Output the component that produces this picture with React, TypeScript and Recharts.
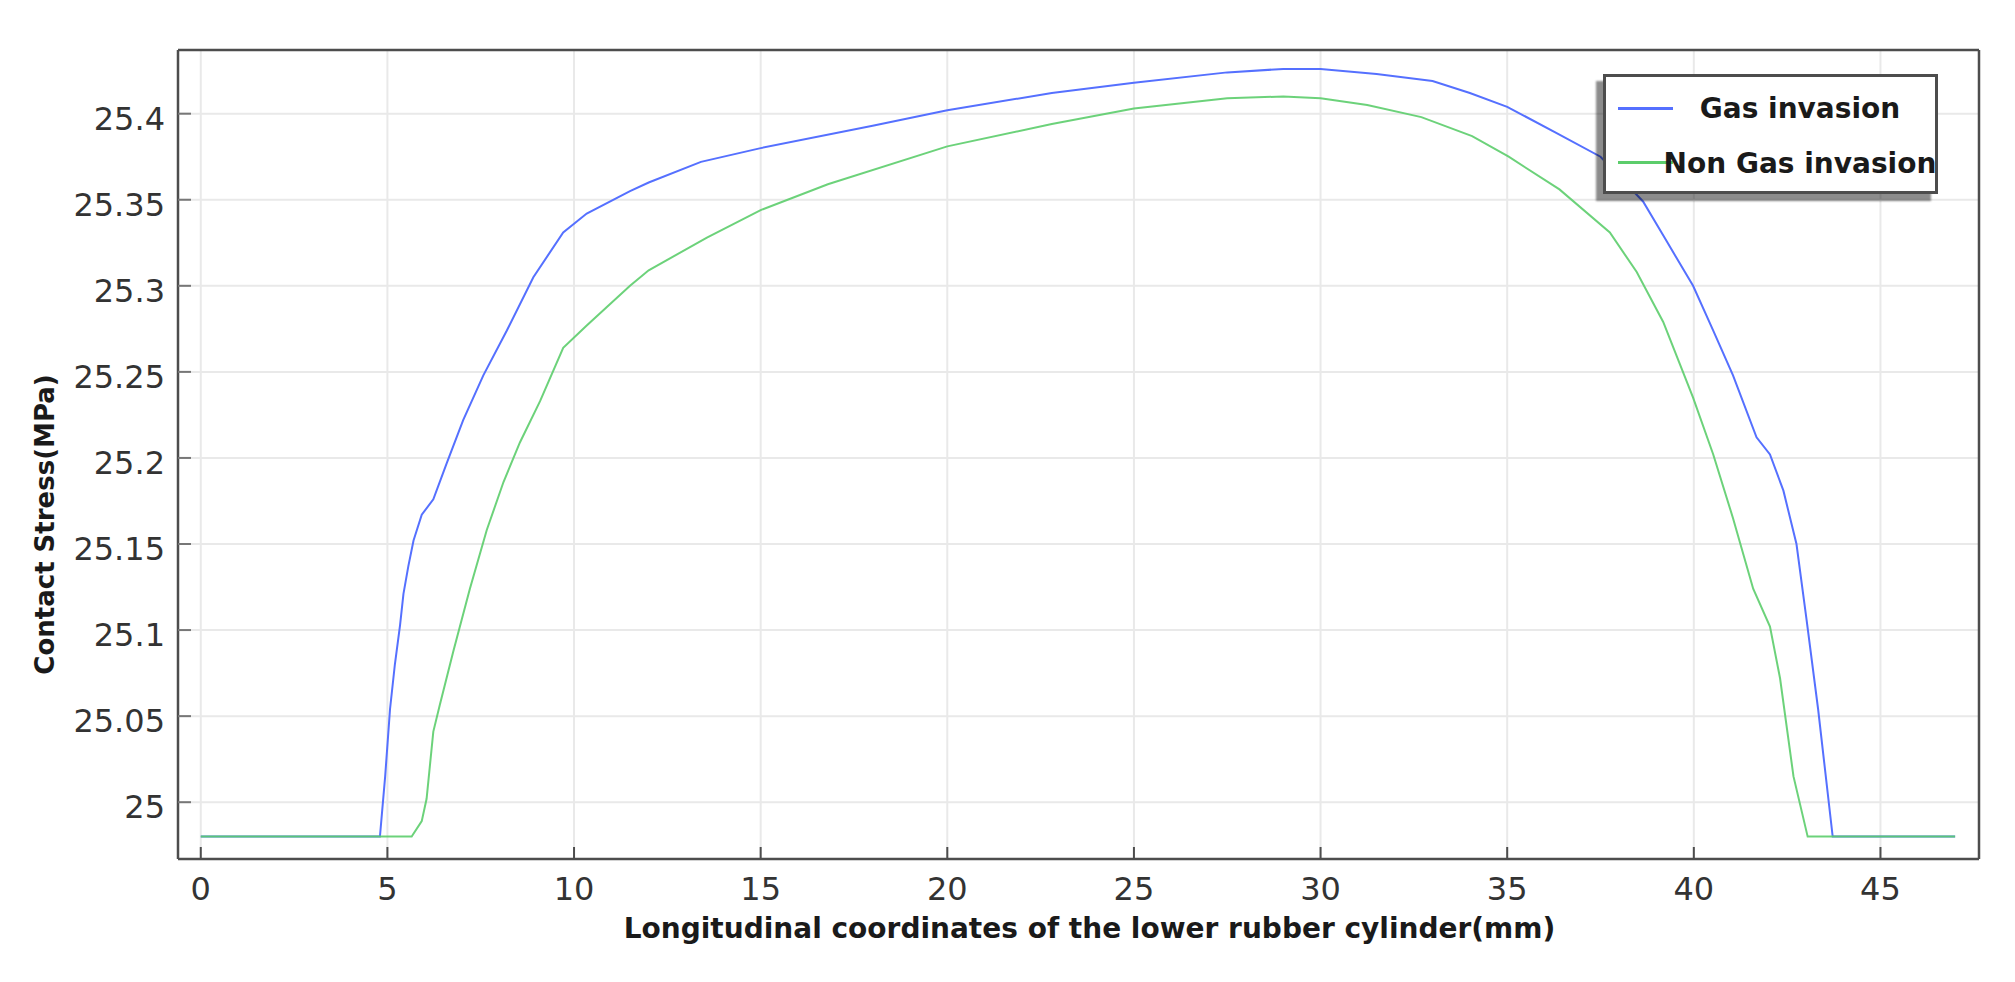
import { CartesianGrid, Label, Legend, Line, LineChart, XAxis, YAxis } from "recharts";

const xTicks = [0, 5, 10, 15, 20, 25, 30, 35, 40, 45];
const yTicks = [25, 25.05, 25.1, 25.15, 25.2, 25.25, 25.3, 25.35, 25.4];

const gasX = [
  0, 4.8, 4.94, 5.07, 5.2, 5.34, 5.43, 5.56, 5.7, 5.92, 6.23, 6.59, 7.03, 7.57, 8.2, 8.91, 9.71, 10.34,
  11.5, 12.0, 13.4, 15, 18, 20, 22.8, 25, 27.5, 29, 30, 31.5, 33.0, 34.0, 35.0, 36.3, 37.5, 38.64,
  39.27, 39.98, 40.52, 41.05, 41.68, 42.04, 42.4, 42.75, 43.02, 43.33, 43.72, 47,
];
const gasStress = [
  24.98, 24.98, 25.015, 25.054, 25.08, 25.103, 25.121, 25.137, 25.152, 25.167, 25.176, 25.197, 25.222,
  25.248, 25.274, 25.305, 25.331, 25.342, 25.355, 25.36, 25.372, 25.38, 25.393, 25.402, 25.412, 25.418,
  25.424, 25.426, 25.426, 25.423, 25.419, 25.412, 25.404, 25.389, 25.375, 25.349, 25.326, 25.3, 25.274,
  25.248, 25.212, 25.202, 25.181, 25.15, 25.106, 25.054, 24.98, 24.98,
];

const nonGasX = [
  0, 5.65, 5.92, 6.05, 6.23, 6.41, 6.77, 7.21, 7.66, 8.11, 8.55, 9.09, 9.71, 10.34, 11.5, 12.0, 13.56,
  15, 16.8, 20, 22.8, 25, 27.5, 29, 30, 31.25, 32.7, 34.06, 35.04, 36.4, 37.75, 38.47, 39.18, 39.98,
  40.52, 41.05, 41.59, 42.04, 42.31, 42.67, 43.05, 47,
];
const nonGasStress = [
  24.98, 24.98, 24.989, 25.002, 25.041, 25.057, 25.088, 25.124, 25.158, 25.186, 25.209, 25.233, 25.264,
  25.277, 25.3, 25.309, 25.328, 25.344, 25.359, 25.381, 25.394, 25.403, 25.409, 25.41, 25.409, 25.405,
  25.398, 25.387, 25.375, 25.356, 25.331, 25.308, 25.279, 25.235, 25.202, 25.165, 25.124, 25.102,
  25.072, 25.015, 24.98, 24.98,
];

const gasData = gasX.map((x, i) => ({ x, stress: gasStress[i] }));
const nonGasData = nonGasX.map((x, i) => ({ x, stress: nonGasStress[i] }));

const FONT = "'DejaVu Sans', sans-serif";
const FRAME = "#4d4d4d";

// ticks point into the plot, labels stay outside
const BottomTick = ({ x, y, payload }: any) => (
  <g>
    <line x1={x} y1={y} x2={x} y2={y - 12} stroke={FRAME} strokeWidth={2} />
    <text x={x} y={y + 41} textAnchor="middle" fontFamily={FONT} fontSize={32} fill="#333">
      {payload.value}
    </text>
  </g>
);

const LeftTick = ({ x, y, payload }: any) => (
  <g>
    <line x1={x} y1={y} x2={x + 13} y2={y} stroke="#777" strokeWidth={2} />
    <text x={x - 13} y={y + 16} textAnchor="end" fontFamily={FONT} fontSize={32} fill="#333">
      {payload.value}
    </text>
  </g>
);

const TopTick = ({ x, y }: any) => <line x1={x} y1={y} x2={x} y2={y + 10} stroke={FRAME} strokeWidth={2} />;

const RightTick = ({ x, y }: any) => <line x1={x} y1={y} x2={x - 13} y2={y} stroke={FRAME} strokeWidth={2} />;

const XTitle = ({ viewBox }: any) => (
  <text
    x={viewBox.x + viewBox.width / 2 + 11}
    y={viewBox.y + 79}
    textAnchor="middle"
    fontFamily={FONT}
    fontWeight="bold"
    fontSize={28}
    fill="#1a1a1a"
  >
    Longitudinal coordinates of the lower rubber cylinder(mm)
  </text>
);

const YTitle = ({ viewBox }: any) => {
  const cx = viewBox.x + 54;
  const cy = viewBox.y + viewBox.height / 2 + 70;
  return (
    <text
      x={cx}
      y={cy}
      transform={`rotate(-90 ${cx} ${cy})`}
      textAnchor="middle"
      fontFamily={FONT}
      fontWeight="bold"
      fontSize={26}
      fill="#1a1a1a"
    >
      Contact Stress(MPa)
    </text>
  );
};

const LegendBox = ({ payload }: any) => (
  <div
    style={{
      position: "relative",
      width: 335,
      height: 120,
      boxSizing: "border-box",
      border: `3px solid ${FRAME}`,
      background: "#fff",
      boxShadow: "-7px 7px 2px rgba(0,0,0,0.45)",
      fontFamily: FONT,
      fontWeight: "bold",
      fontSize: 28,
      color: "#1a1a1a",
    }}
  >
    {(payload || []).map((item: any, i: number) => (
      <div key={item.value} style={{ position: "absolute", left: 0, top: 0, width: "100%" }}>
        <div
          style={{
            position: "absolute",
            left: 12,
            top: 30 + i * 54,
            width: 55,
            height: 3,
            background: item.color,
          }}
        />
        <div
          style={{
            position: "absolute",
            left: 194,
            top: 12 + i * 55,
            transform: "translateX(-50%)",
            whiteSpace: "nowrap",
            lineHeight: "40px",
          }}
        >
          {item.value}
        </div>
      </div>
    ))}
  </div>
);

export default function App() {
  return (
    <div style={{ position: "absolute", left: 0, top: 0, width: 2015, height: 982, background: "#fff" }}>
      <LineChart width={2015} height={982} margin={{ top: 49, right: 35, bottom: 0, left: 0 }}>
        <CartesianGrid stroke="#e9e9e9" strokeWidth={2} />
        <XAxis
          dataKey="x"
          type="number"
          domain={[-0.61, 47.64]}
          ticks={xTicks}
          height={123}
          tickSize={0}
          tickMargin={0}
          tickLine={false}
          tick={<BottomTick />}
          axisLine={{ stroke: FRAME, strokeWidth: 2.5 }}
        >
          <Label content={<XTitle />} />
        </XAxis>
        <XAxis
          xAxisId="top"
          orientation="top"
          dataKey="x"
          type="number"
          domain={[-0.61, 47.64]}
          ticks={xTicks}
          height={1}
          tickSize={0}
          tickMargin={0}
          tickLine={false}
          tick={<TopTick />}
          axisLine={{ stroke: FRAME, strokeWidth: 2.5 }}
        />
        <YAxis
          type="number"
          domain={[24.967, 25.437]}
          ticks={yTicks}
          width={178}
          tickSize={0}
          tickMargin={0}
          tickLine={false}
          tick={<LeftTick />}
          axisLine={{ stroke: FRAME, strokeWidth: 2.5 }}
        >
          <Label content={<YTitle />} />
        </YAxis>
        <YAxis
          yAxisId="right"
          orientation="right"
          type="number"
          domain={[24.967, 25.437]}
          ticks={yTicks}
          width={1}
          tickSize={0}
          tickMargin={0}
          tickLine={false}
          tick={<RightTick />}
          axisLine={{ stroke: FRAME, strokeWidth: 2.5 }}
        />
        <Legend
          content={<LegendBox />}
          layout="horizontal"
          verticalAlign="middle"
          align="center"
          wrapperStyle={{ left: 1603, top: 74, width: 335, height: 120 }}
        />
        <Line
          data={gasData}
          dataKey="stress"
          name="Gas invasion"
          type="linear"
          stroke="#5570ff"
          strokeWidth={2}
          dot={false}
          isAnimationActive={false}
        />
        <Line
          data={nonGasData}
          dataKey="stress"
          name="Non Gas invasion"
          type="linear"
          stroke="#5ccd6b"
          strokeWidth={2}
          strokeOpacity={0.9}
          dot={false}
          isAnimationActive={false}
        />
      </LineChart>
    </div>
  );
}
